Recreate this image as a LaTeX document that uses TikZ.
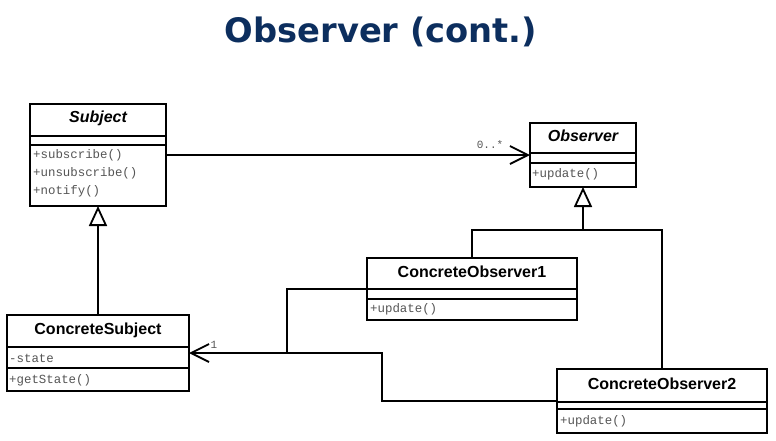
\documentclass[tikz,border=0pt]{standalone}
\usepackage{fontspec}
\newfontfamily\classfont{Liberation Sans}
\newfontfamily\memberfont{Liberation Mono}
\newfontfamily\headfont{DejaVu Sans}
\usetikzlibrary{arrows.meta}
\definecolor{headblue}{RGB}{12,46,94}
\definecolor{membergray}{RGB}{85,85,85}
\tikzset{
  classbox/.style={draw, line width=1.8pt, fill=white, anchor=north west, inner sep=0pt, outer sep=0pt},
  classname/.style={inner sep=0pt, font=\classfont\bfseries\fontsize{16}{18}\selectfont},
  member/.style={anchor=west, inner sep=0pt, text=membergray, font=\memberfont\fontsize{12.4}{14}\selectfont},
  mult/.style={inner sep=0pt, text=membergray, font=\memberfont\fontsize{11}{13}\selectfont},
  wire/.style={draw, line width=1.8pt},
  assoc/.style={wire, -{Straight Barb[length=18pt, width=18pt, line width=1.8pt]}},
  inherit/.style={wire, -{Triangle[open, length=20pt, width=18pt, fill=white, line width=1.8pt]}}
}
\begin{document}
\begin{tikzpicture}[x=1pt, y=-1pt]
      \useasboundingbox (0,0) rectangle (776,440);
      \node[anchor=base, text=headblue, font=\headfont\bfseries\fontsize{33.7}{40}\selectfont]
        (heading) at (381,42) {Observer (cont.)};
      % id / left / top / right / bottom / first and second divider
      \def \Boxes{
        subject/30/104/166/206/136/145,
        observer/530/123/636/187/153/163,
        csubject/7/315/189/391/347/368,
        cobsone/367/258/577/320/289/299,
        cobstwo/557/369/767/433/402/409}
      \def \Names{
        subjectname/98/118/\itshape Subject,
        observername/583/136/\itshape Observer,
        csubjectname/98/330/ConcreteSubject,
        cobsonename/472/272/ConcreteObserver1,
        cobstwoname/662/384/ConcreteObserver2}
      \def \Members{
        subjectsub/33/155/+subscribe(),
        subjectunsub/33/173/+unsubscribe(),
        subjectnotify/33/191/+notify(),
        observerupdate/532/174/+update(),
        csubjectstate/9/358/-state,
        csubjectget/9/380/+getState(),
        cobsoneupdate/370/309/+update(),
        cobstwoupdate/560/421/+update()}
      \foreach \id / \xa / \ya / \xb / \yb / \la / \lb in \Boxes{
        \node[classbox, minimum width=\xb pt-\xa pt, minimum height=\yb pt-\ya pt] (\id) at (\xa,\ya) {};
        \path[wire] (\xa,\la) -- (\xb,\la);
        \path[wire] (\xa,\lb) -- (\xb,\lb);
      }
      \foreach \id / \x / \y / \t in \Names{
        \node[classname] (\id) at (\x,\y) {\t};
      }
      \foreach \id / \x / \y / \t in \Members{
        \node[member] (\id) at (\x,\y) {\t};
      }
      % associations
      \path[assoc] (subject.east) -- (observer.west |- subject.east);
      \node[mult] (multmany) at (490,145) {0..*};
      \coordinate (assocbend) at (382,353);
      \coordinate (assocjoin) at (287,353);
      \path[assoc] (cobstwo.west) -| (assocbend) -- (csubject.east);
      \path[wire] (cobsone.west) -| (assocjoin);
      \node[mult] (multone) at (214,345) {1};
      % generalisations
      \path[inherit] (csubject.north) -- (subject.south);
      \coordinate (genjoin) at (583,230);
      \path[inherit] (cobsone.north) |- (genjoin) -- (observer.south);
      \path[wire] (cobstwo.north) |- (genjoin);
    \end{tikzpicture}
\end{document}
